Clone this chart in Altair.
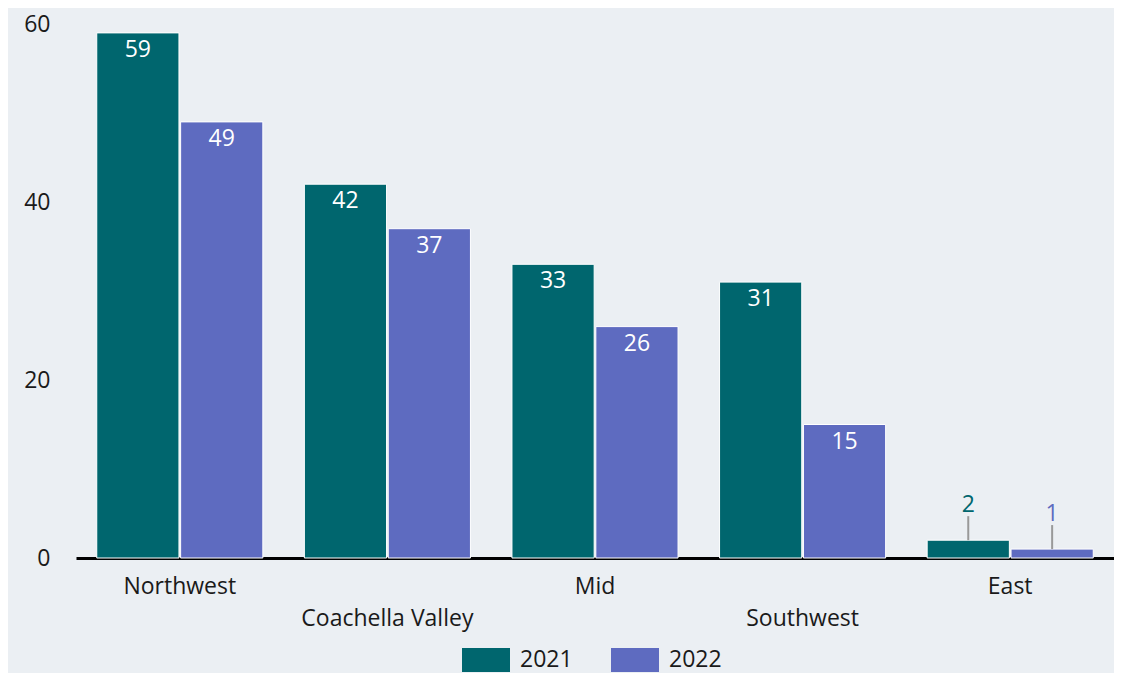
import altair as alt
import pandas as pd

regions = ["Northwest", "Coachella Valley", "Mid", "Southwest", "East"]
years = ["2021", "2022"]
values_2021 = [59, 42, 33, 31, 2]
values_2022 = [49, 37, 26, 15, 1]
y_ticks = [0, 20, 40, 60]
colors = ["#00666E", "#5E6BC0"]

rows = []
for r, a, b in zip(regions, values_2021, values_2022):
    rows.append({"Region": r, "Year": years[0], "value": a})
    rows.append({"Region": r, "Year": years[1], "value": b})
df = pd.DataFrame(rows)

FONT = "Open Sans"
FS = 23

x = alt.X("Region:N", sort=regions, title=None,
          scale=alt.Scale(paddingInner=0.2, paddingOuter=0.1),
          axis=alt.Axis(labelAngle=0, ticks=False, domainColor="#000000", domainWidth=3,
                        labelFontSize=FS, labelFont=FONT, labelColor="#1a1a1a",
                        labelPadding=17, labelLineHeight=32,
                        labelExpr="indexof(['Coachella Valley','Southwest'], datum.value) >= 0 ? ['', datum.label] : datum.label"))
xo = alt.XOffset("Year:N", sort=years, scale=alt.Scale(paddingInner=0.02))
y = alt.Y("value:Q", title=None, scale=alt.Scale(domain=[0, 60], nice=False),
          axis=alt.Axis(values=y_ticks, grid=False, ticks=False, domain=False,
                        labelFontSize=FS, labelFont=FONT, labelColor="#1a1a1a", labelPadding=26))
color = alt.Color("Year:N", sort=years, scale=alt.Scale(domain=years, range=colors),
                  legend=alt.Legend(title=None, orient="none", legendX=386, legendY=612,
                                    direction="horizontal",
                                    symbolType="M-1,-0.5H1V0.5H-1Z", symbolSize=2304,
                                    symbolStrokeWidth=0, symbolOpacity=1,
                                    labelFontSize=FS, labelFont=FONT, labelColor="#1a1a1a",
                                    labelOffset=10, columnPadding=38))

base = alt.Chart(df)
bars = base.mark_bar(stroke="white", strokeWidth=1).encode(x=x, xOffset=xo, y=y, color=color)
inside = base.transform_filter("datum.value >= 5").mark_text(
    color="white", fontSize=FS, font=FONT, baseline="middle", dy=17
).encode(x=x, xOffset=xo, y=y, text="value:Q")
outside = base.transform_filter("datum.value < 5").mark_text(
    fontSize=FS, font=FONT, baseline="middle", dy=-35
).encode(x=x, xOffset=xo, y=y, text="value:Q", color=color)
leader = base.transform_filter("datum.value < 5").transform_calculate(
    top="datum.value + 2.7"
).mark_rule(color="#999999", strokeWidth=2).encode(
    x=x, xOffset=xo, y=y, y2="top:Q")

chart = alt.layer(bars, inside, outside, leader).properties(
    width=1038, height=534, background="#EBEFF3",
    autosize=alt.AutoSizeParams(type="none"),
    padding={"left": 68, "top": 16, "right": 0, "bottom": 115},
).configure_view(stroke=None)

chart.save("out.html", embed_options={"renderer": "svg", "actions": False})
